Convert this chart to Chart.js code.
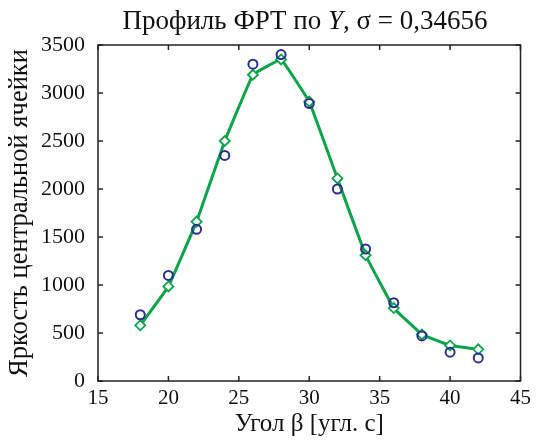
<!DOCTYPE html>
<html>
<head>
<meta charset="utf-8">
<script src="https://cdn.jsdelivr.net/npm/chart.js@4"></script>
<style>
  html, body { margin: 0; padding: 0; background: #fff; }
  #wrap { width: 536px; height: 443px; }
</style>
</head>
<body>
<div id="wrap"><canvas id="myChart" width="536" height="443"></canvas></div>
<script>
const angles = [18, 20, 22, 24, 26, 28, 30, 32, 34, 36, 38, 40, 42];
const measured = [690, 1100, 1580, 2350, 3300, 3400, 2890, 2000, 1375, 815, 470, 300, 240];
const fitted = [580, 985, 1660, 2500, 3190, 3350, 2910, 2110, 1310, 760, 485, 370, 330];
const xTicks = [15, 20, 25, 30, 35, 40, 45];
const yTicks = [0, 500, 1000, 1500, 2000, 2500, 3000, 3500];

const serif = "'Liberation Serif', 'Times New Roman', serif";

// box round the plot with ticks pointing inwards on all four sides
const boxPlugin = {
    id: 'box',
    afterDraw(chart)
    {
        const ctx = chart.ctx;
        const a = chart.chartArea;
        const xs = chart.scales.x;
        const ys = chart.scales.y;
        ctx.save();
        ctx.strokeStyle = '#222';
        ctx.lineWidth = 1.5;
        ctx.strokeRect(a.left, a.top, a.right - a.left, a.bottom - a.top);
        ctx.beginPath();
        xTicks.forEach(v =>
        {
            const px = xs.getPixelForValue(v);
            ctx.moveTo(px, a.bottom); ctx.lineTo(px, a.bottom - 5);
            ctx.moveTo(px, a.top); ctx.lineTo(px, a.top + 5);
        });
        yTicks.forEach(v =>
        {
            const py = ys.getPixelForValue(v);
            ctx.moveTo(a.left, py); ctx.lineTo(a.left + 5, py);
            ctx.moveTo(a.right, py); ctx.lineTo(a.right - 5, py);
        });
        ctx.stroke();

        // title with italic Y
        const parts = [
            ['Профиль ФРТ по ', 'normal'],
            ['Y', 'italic'],
            [', σ = 0,34656', 'normal']
        ];
        let total = 0;
        parts.forEach(p =>
        {
            ctx.font = p[1] + ' 27px ' + serif;
            total += ctx.measureText(p[0]).width;
        });
        let x = 305 - total / 2;
        ctx.fillStyle = '#111';
        ctx.textBaseline = 'alphabetic';
        ctx.textAlign = 'left';
        parts.forEach(p =>
        {
            ctx.font = p[1] + ' 27px ' + serif;
            ctx.fillText(p[0], x, 29);
            x += ctx.measureText(p[0]).width;
        });
        ctx.restore();
    }
};

let myChart = new Chart(document.getElementById('myChart').getContext('2d'), {
    type: 'scatter',
    data: {
        datasets: [
            {
                label: 'measured',
                data: angles.map((a, i) => ({x: a, y: measured[i]})),
                showLine: false,
                pointStyle: 'circle',
                pointRadius: 4.5,
                pointBorderWidth: 2,
                pointBorderColor: '#2b2f8f',
                pointBackgroundColor: 'rgba(0,0,0,0)'
            },
            {
                label: 'fitted',
                data: angles.map((a, i) => ({x: a, y: fitted[i]})),
                showLine: true,
                borderColor: '#0aa54a',
                borderWidth: 3,
                tension: 0.05,
                pointStyle: 'rectRot',
                pointRadius: 5,
                pointBorderWidth: 1.8,
                pointBorderColor: '#0aa54a',
                pointBackgroundColor: '#ffffff'
            }
        ]
    },
    options: {
        responsive: false,
        animation: false,
        layout: { padding: { top: 45, right: 13, left: 0, bottom: 0 } },
        plugins: {
            legend: { display: false },
            tooltip: { enabled: false }
        },
        scales: {
            x: {
                type: 'linear',
                min: 15,
                max: 45,
                afterBuildTicks: s => { s.ticks = xTicks.map(v => ({value: v})); },
                afterFit: s => { s.height = 62; },
                grid: { display: false, drawTicks: false },
                border: { display: false },
                ticks: { color: '#111', font: { family: serif, size: 21 }, padding: 5, callback: v => String(v) },
                title: { display: true, text: 'Угол β [угл. с]', color: '#111', font: { family: serif, size: 25 }, padding: { top: 0 } }
            },
            y: {
                type: 'linear',
                min: 0,
                max: 3500,
                afterBuildTicks: s => { s.ticks = yTicks.map(v => ({value: v})); },
                afterFit: s => { s.width = 98; },
                grid: { display: false, drawTicks: false },
                border: { display: false },
                ticks: { color: '#111', font: { family: serif, size: 22 }, padding: 13, callback: v => String(v) },
                title: { display: true, text: 'Яркость центральной ячейки', color: '#111', font: { family: serif, size: 26.5 }, padding: { bottom: 0 } }
            }
        }
    },
    plugins: [boxPlugin]
});
</script>
</body>
</html>
